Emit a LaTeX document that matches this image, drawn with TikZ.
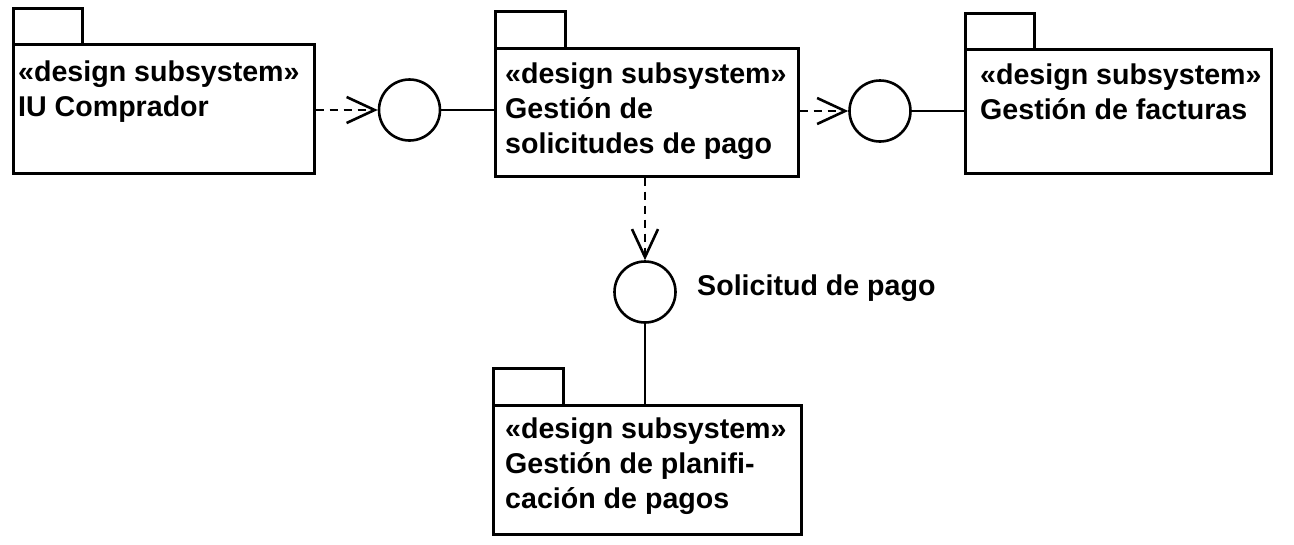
\documentclass[tikz,border=0pt]{standalone}
\usepackage{fontspec}
\setmainfont{Liberation Sans}
\usetikzlibrary{arrows.meta}
\begin{document}
\begin{tikzpicture}[x=1pt,y=-1pt,
  lw/.style={line width=2.6pt},
  pkg/.style={draw, lw, rectangle, inner sep=0pt, anchor=north west},
  pkgtext/.style={anchor=north west, inner sep=0pt, align=left, font=\bfseries\fontsize{28.6}{35}\selectfont},
  iface/.style={draw, lw, circle, inner sep=0pt, minimum size=61pt},
  dep/.style={lw, dash pattern=on 8pt off 6pt, -{Straight Barb[length=28pt,width=26pt,line width=2.6pt]}},
  real/.style={lw}]
\useasboundingbox (0,0) rectangle (1294,544);
% packages
\node[pkg, minimum width=69pt, minimum height=36pt] (t1) at (12,7) {};
\node[pkg, minimum width=301pt, minimum height=129pt] (b1) at (12,43) {};
\node[pkg, minimum width=70pt, minimum height=37pt] (t2) at (494,10) {};
\node[pkg, minimum width=303pt, minimum height=128pt] (b2) at (494,47) {};
\node[pkg, minimum width=69pt, minimum height=36pt] (t3) at (964,12) {};
\node[pkg, minimum width=306pt, minimum height=124pt] (b3) at (964,48) {};
\node[pkg, minimum width=70pt, minimum height=37pt] (t4) at (492,367) {};
\node[pkg, minimum width=308pt, minimum height=129pt] (b4) at (492,404) {};
% texts
\node[pkgtext] (x1) at (18,56.5) {\strut«design subsystem»\\IU Comprador};
\node[pkgtext] (x2) at (505,58.5) {\strut«design subsystem»\\Gestión de\\solicitudes de pago};
\node[pkgtext] (x3) at (980,59.5) {\strut«design subsystem»\\Gestión de facturas};
\node[pkgtext] (x4) at (505,413.5) {\strut«design subsystem»\\Gestión de planifi-\\cación de pagos};
% interfaces
\node[iface] (c1) at (409.5,110) {};
\node[iface] (c2) at (880,111) {};
\node[iface] (c3) at (645,292) {};
\node[anchor=base west, inner sep=0pt, font=\bfseries\fontsize{28.6}{35}\selectfont] (lbl) at (697,295) {Solicitud de pago};
% connectors
\draw[dep] (b1.east |- c1.center) -- (c1);
\draw[real] (c1) -- (b2.west |- c1.center);
\draw[dep] (b2.east |- c2.center) -- (c2);
\draw[real] (c2) -- (b3.west |- c2.center);
\draw[dep] (b2.south -| c3.center) -- (c3);
\draw[real] (c3) -- (b4.north -| c3.center);
\end{tikzpicture}
\end{document}
